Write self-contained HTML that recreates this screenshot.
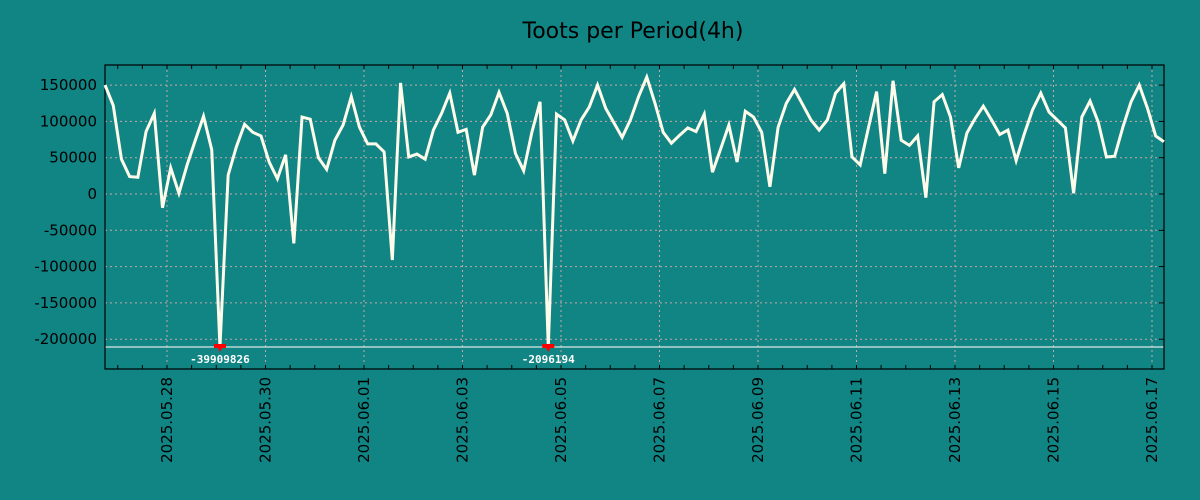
<!DOCTYPE html>
<html><head><meta charset="utf-8"><style>
html,body{margin:0;padding:0;background:#118484;}
svg{display:block;font-family:"DejaVu Sans","Liberation Sans",sans-serif;}
</style></head><body>
<svg id="chart" width="1200" height="500" viewBox="0 0 1200 500" xmlns="http://www.w3.org/2000/svg">
<rect width="1200" height="500" fill="#118484"/>
<text x="633" y="38" text-anchor="middle" font-size="22" fill="#000">Toots per Period(4h)</text>
<g id="grid"></g>
<g id="axes"></g>
<g id="series"></g>
</svg>
<script>
const yTicks = [150000, 100000, 50000, 0, -50000, -100000, -150000, -200000];
const xLabels = ["2025.05.28","2025.05.30","2025.06.01","2025.06.03","2025.06.05","2025.06.07","2025.06.09","2025.06.11","2025.06.13","2025.06.15","2025.06.17"];
const startHour = -30.2;   // first sample, hours relative to 2025.05.28 00:00
const periodHours = 4;
const values = [150000,122000,48000,24000,23000,86000,111000,-19000,36000,1000,
40000,74000,107000,61000,-39909826,26000,65000,96000,85000,80000,
44000,21000,54000,-68000,106000,103000,50000,34000,74000,95000,
134000,92000,69000,69000,58000,-91000,153000,51000,55000,48000,
88000,111000,139000,85000,89000,26000,92000,109000,140000,111000,
56000,32000,85000,127000,-2096194,110000,102000,73000,102000,120000,
150000,118000,98000,78000,102000,134000,161000,125000,85000,70000,
81000,91000,86000,110000,30000,62000,95000,44000,114000,106000,
85000,10000,92000,125000,144000,123000,102000,88000,102000,139000,
152000,51000,40000,91000,141000,28000,156000,74000,67000,80000,
-5000,127000,137000,106000,36000,84000,104000,121000,102000,82000,
88000,46000,83000,116000,139000,113000,102000,91000,1000,106000,
128000,99000,51000,52000,92000,127000,150000,118000,80000,72000];
const clipValue = -210700;

const NS = "http://www.w3.org/2000/svg";
const L = 105, R = 1164, T = 65, B = 369;
function xScale(h){ return 167 + h * (49.25 / 24); }
function yScale(v){ return 194 - v * 0.000726; }
function mk(tag, attrs, parent){ const e = document.createElementNS(NS, tag); for (const k in attrs) e.setAttribute(k, attrs[k]); parent.appendChild(e); return e; }

const grid = document.getElementById('grid');
const axes = document.getElementById('axes');
const series = document.getElementById('series');

// y grid + labels
yTicks.forEach(v => {
  const y = yScale(v);
  const g = mk('line', {x1:L, x2:R, y1:y, y2:y, stroke:'#c8a6a6', 'stroke-width':1, 'stroke-dasharray':'2,3'}, grid);
  
  
  const tk = mk('line', {x1:R-5, x2:R, y1:y, y2:y, stroke:'#000', 'stroke-width':1}, axes);
  
  
  const t = mk('text', {x:97, y:y+5, 'text-anchor':'end', 'font-size':15, fill:'#000'}, axes);
  t.textContent = v;
  
  
});
// x minor ticks every 12h
for (let h = -24; h <= 504; h += 12) {
  const x = xScale(h);
  if (x < L || x > R) continue;
  const tk = mk('line', {x1:x, x2:x, y1:T, y2:T+4, stroke:'#000', 'stroke-width':1}, axes);
  
  
  const tb = mk('line', {x1:x, x2:x, y1:B-4, y2:B, stroke:'#000', 'stroke-width':1}, axes);
  
  
}
// x grid + labels
xLabels.forEach((lab, i) => {
  const x = xScale(i * 48);
  const g = mk('line', {x1:x, x2:x, y1:T, y2:B, stroke:'#c8a6a6', 'stroke-width':1, 'stroke-dasharray':'2,3'}, grid);
  
  
  const t = mk('text', {x:0, y:0, 'text-anchor':'end', 'font-size':15, fill:'#000', transform:`translate(${x+5},377) rotate(-90)`}, axes);
  t.textContent = lab;
  
  
});
// clip line
const cl = mk('line', {x1:L, x2:R, y1:yScale(clipValue), y2:yScale(clipValue), stroke:'#dde8e8', 'stroke-width':1.2}, grid);


// frame
const fr = mk('rect', {x:L, y:T, width:R-L, height:B-T, fill:'none', stroke:'#000', 'stroke-width':1.2}, axes);



// series
const pts = values.map((v, i) => {
  const vv = Math.max(v, clipValue);
  return xScale(startHour + i * periodHours).toFixed(2) + ',' + yScale(vv).toFixed(2);
});
const pl = mk('polyline', {points: pts.join(' '), fill:'none', stroke:'#fffbea', 'stroke-width':3, 'stroke-linejoin':'miter'}, series);



values.forEach((v, i) => {
  if (v >= clipValue) return;
  const x = xScale(startHour + i * periodHours), y = yScale(clipValue);
  const m = mk('path', {d:`M${x-6},${y-3} L${x+6},${y-3} L${x+6},${y+1} L${x+2},${y+1} L${x},${y+5} L${x-2},${y+1} L${x-6},${y+1} Z`, fill:'#ff0000'}, series);
  
  
  const t = mk('text', {x:x, y:y+16, 'text-anchor':'middle', 'font-size':11, 'font-weight':'bold', fill:'#ffffff', 'font-family':'"DejaVu Sans Mono","Liberation Mono",monospace'}, series);
  t.textContent = v;
  
  
});
</script>
</body></html>
